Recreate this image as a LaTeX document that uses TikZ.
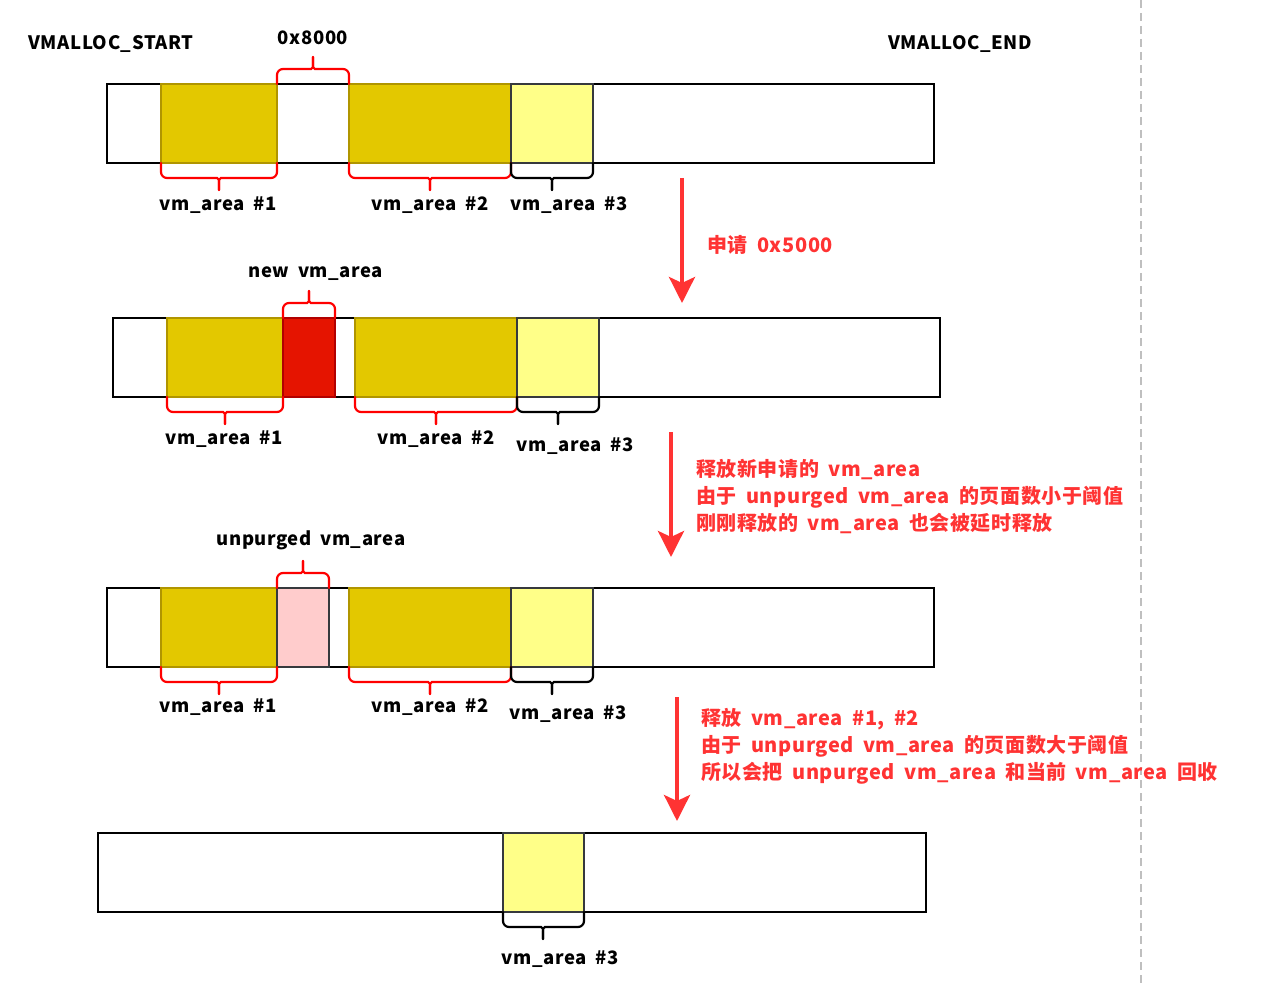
\documentclass[tikz,border=0pt]{standalone}
\usepackage{fontspec}
\setmainfont{Noto Sans CJK SC}[LetterSpace=3, WordSpace=1.8]
\usetikzlibrary{arrows.meta}
\definecolor{dky}{HTML}{E3C800}
\definecolor{dkyb}{HTML}{B09500}
\definecolor{lty}{HTML}{FFFF88}
\definecolor{grb}{HTML}{36393D}
\definecolor{newred}{HTML}{E51400}
\definecolor{newredb}{HTML}{B20000}
\definecolor{pinkf}{HTML}{FFCCCC}
\definecolor{txtred}{HTML}{FF3333}
\definecolor{braceRed}{HTML}{FF0000}
\tikzset{
  barbox/.style={draw=black, line width=2.8pt, fill=white},
  area/.style={draw=dkyb, fill=dky, line width=2pt},
  area3/.style={draw=grb, fill=lty, line width=2pt},
  newarea/.style={draw=newredb, fill=newred, line width=2pt},
  unpurged/.style={draw=grb, fill=pinkf, line width=2pt},
  bracepen/.style={line width=2.2pt, line cap=round},
  lbl/.style={font=\fontsize{18.5}{20}\selectfont\bfseries, inner sep=0pt, text=black, yshift=-2pt},
  note/.style={font=\fontsize{20}{27}\selectfont\bfseries, inner sep=0pt, text=txtred, align=left, anchor=west, yshift=-1.5pt},
  redarrow/.style={draw=txtred, line width=4pt, -{Stealth[length=26pt,width=26pt,inset=6pt]}},
}
\newcommand\curly[6]{%
  \draw[bracepen,#6] ({#1},{#4}) [rounded corners=6pt] -- ({#1},{#4+(#5)*15}) -- ({#2-8},{#4+(#5)*15}) [sharp corners] .. controls ({#2},{#4+(#5)*15}) .. ({#2},{#4+(#5)*27});
  \draw[bracepen,#6] ({#3},{#4}) [rounded corners=6pt] -- ({#3},{#4+(#5)*15}) -- ({#2+8},{#4+(#5)*15}) [sharp corners] .. controls ({#2},{#4+(#5)*15}) .. ({#2},{#4+(#5)*27});
}
\begin{document}
\begin{tikzpicture}[x=1pt,y=-1pt]
\useasboundingbox (0,0) rectangle (1268,984);
% dashed separator
\coordinate (sepTop) at (1141,0);
\coordinate (sepBot) at (1141,984);
\draw[draw=black!25, line width=2pt, dash pattern=on 8pt off 5pt] (sepTop) -- (sepBot);

% ---------- row 1 ----------
\draw[barbox] (107,84) rectangle (934,163);
\draw[area] (161,84) rectangle (277,163);
\draw[area] (349,84) rectangle (511,163);
\draw[area3] (511,84) rectangle (593,163);
\node[lbl] (start) at (111,42) {VMALLOC\_START};
\node[lbl] (end) at (960,42) {VMALLOC\_END};
\node[lbl] (gap) at (313,36) {0x8000};
\curly{277}{313}{349}{84}{-1}{braceRed}
\curly{161}{219}{277}{163}{1}{braceRed}
\curly{349}{430}{511}{163}{1}{braceRed}
\curly{511}{552}{593}{163}{1}{black}
\node[lbl] (r1a) at (218,203) {vm\_area \#1};
\node[lbl] (r1b) at (430,203) {vm\_area \#2};
\node[lbl] (r1c) at (569,203) {vm\_area \#3};

% arrow 1
\coordinate (a1s) at (682,178);
\coordinate (a1e) at (682,303);
\draw[redarrow] (a1s) -- (a1e);
\node[note] (n1) at (707,243) {申请 0x5000};

% ---------- row 2 ----------
\draw[barbox] (113,318) rectangle (940,397);
\draw[area] (167,318) rectangle (283,397);
\draw[newarea] (283,318) rectangle (335,397);
\draw[area] (355,318) rectangle (517,397);
\draw[area3] (517,318) rectangle (599,397);
\node[lbl] (newlbl) at (316,272) {new vm\_area};
\curly{283}{309}{335}{318}{-1}{braceRed}
\curly{167}{225}{283}{397}{1}{braceRed}
\curly{355}{436}{517}{397}{1}{braceRed}
\curly{517}{558}{599}{397}{1}{black}
\node[lbl] (r2a) at (224,437) {vm\_area \#1};
\node[lbl] (r2b) at (436,437) {vm\_area \#2};
\node[lbl] (r2c) at (575,444) {vm\_area \#3};

% arrow 2
\coordinate (a2s) at (671,432);
\coordinate (a2e) at (671,557);
\draw[redarrow] (a2s) -- (a2e);
\node[note] (n2) at (696,495) {释放新申请的 vm\_area\\由于 unpurged vm\_area 的页面数小于阈值\\刚刚释放的 vm\_area 也会被延时释放};

% ---------- row 3 ----------
\draw[barbox] (107,588) rectangle (934,667);
\draw[area] (161,588) rectangle (277,667);
\draw[unpurged] (277,588) rectangle (329,667);
\draw[area] (349,588) rectangle (511,667);
\draw[area3] (511,588) rectangle (593,667);
\node[lbl] (unplbl) at (311,538) {unpurged vm\_area};
\curly{277}{303}{329}{588}{-1}{braceRed}
\curly{161}{219}{277}{667}{1}{braceRed}
\curly{349}{430}{511}{667}{1}{braceRed}
\curly{511}{552}{593}{667}{1}{black}
\node[lbl] (r3a) at (218,705) {vm\_area \#1};
\node[lbl] (r3b) at (430,705) {vm\_area \#2};
\node[lbl] (r3c) at (568,712) {vm\_area \#3};

% arrow 3
\coordinate (a3s) at (677,697);
\coordinate (a3e) at (677,821);
\draw[redarrow] (a3s) -- (a3e);
\node[note] (n3) at (701,745) {释放 vm\_area \#1, \#2\\由于 unpurged vm\_area 的页面数大于阈值\\所以会把 unpurged vm\_area 和当前 vm\_area 回收};

% ---------- row 4 ----------
\draw[barbox] (98,833) rectangle (926,912);
\draw[area3] (503,833) rectangle (584,912);
\curly{503}{543}{584}{912}{1}{black}
\node[lbl] (r4c) at (560,957) {vm\_area \#3};
\end{tikzpicture}
\end{document}
